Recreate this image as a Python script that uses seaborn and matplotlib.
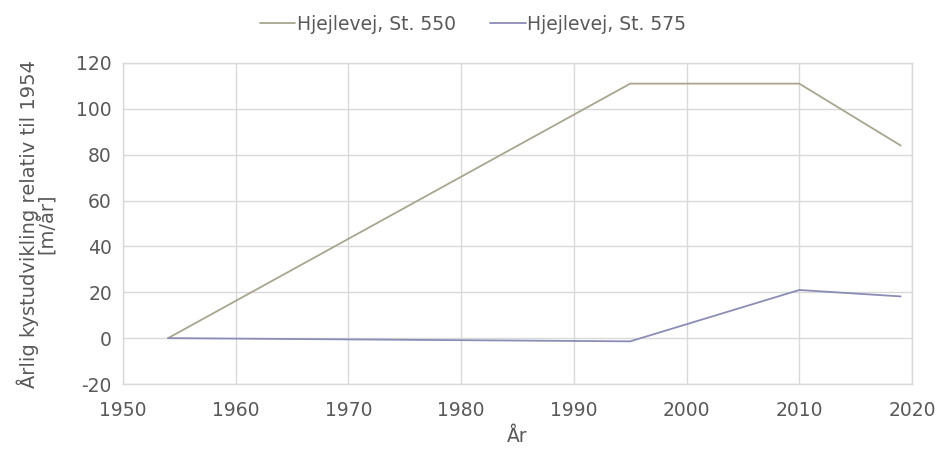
import matplotlib
matplotlib.use("Agg")
import matplotlib.pyplot as plt
import seaborn as sns
import pandas as pd
from matplotlib.lines import Line2D

years_550 = [1954, 1995, 2010, 2019]
values_550 = [0, 111, 111, 84]
years_575 = [1954, 1995, 2010, 2019]
values_575 = [0, -1.4, 21, 18.2]
series_names = ["Hjejlevej, St. 550", "Hjejlevej, St. 575"]
colors = ["#a8a690", "#8a8db5"]

df = pd.concat([
    pd.DataFrame({"År": years_550, "v": values_550, "serie": series_names[0]}),
    pd.DataFrame({"År": years_575, "v": values_575, "serie": series_names[1]}),
])

sns.set_theme(style="white")
plt.rcParams['font.family'] = 'sans-serif'
plt.rcParams['font.sans-serif'] = ['DejaVu Sans']
plt.rcParams['axes.unicode_minus'] = False
txt = "#595959"
FONT = "DejaVu Sans"
FS = 13.5

fig = plt.figure(figsize=(9.39, 4.51), dpi=100)
ax = fig.add_axes([123/939, 1-384/451, (912-123)/939, (384-63)/451])
sns.lineplot(data=df, x="År", y="v", hue="serie", palette=colors, ax=ax,
             linewidth=1.3, legend=False, sort=False)

ax.set_xlim(1950, 2020)
ax.set_ylim(-20, 120)
ax.set_xticks(range(1950, 2021, 10))
ax.set_yticks(range(-20, 121, 20))
ax.grid(True, color="#d9d9d9", linewidth=1)
for s in ax.spines.values():
    s.set_visible(True)
    s.set_color("#d9d9d9")
    s.set_linewidth(1)
ax.tick_params(axis="both", labelsize=FS, colors=txt, length=0)
ax.tick_params(axis="x", pad=12)
ax.tick_params(axis="y", pad=8)
for lab in ax.get_xticklabels() + ax.get_yticklabels():
    lab.set_fontfamily(FONT)
ax.set_xlabel("År", fontsize=FS, color=txt, labelpad=5, fontfamily=FONT)
ax.set_ylabel("Årlig kystudvikling relativ til 1954\n[m/år]", fontsize=FS + 0.5,
              color=txt, labelpad=14, linespacing=0.85, fontfamily=FONT)

handles = [Line2D([], [], color=c, lw=1.3) for c in colors]
fig.legend(handles, series_names, loc="center", bbox_to_anchor=(473/939, 1-24/451),
           ncol=2, frameon=False, labelcolor=txt,
           handlelength=1.9, handletextpad=0.1, columnspacing=1.8,
           prop={"family": FONT, "size": FS})

fig.savefig("out.png", dpi=100)
